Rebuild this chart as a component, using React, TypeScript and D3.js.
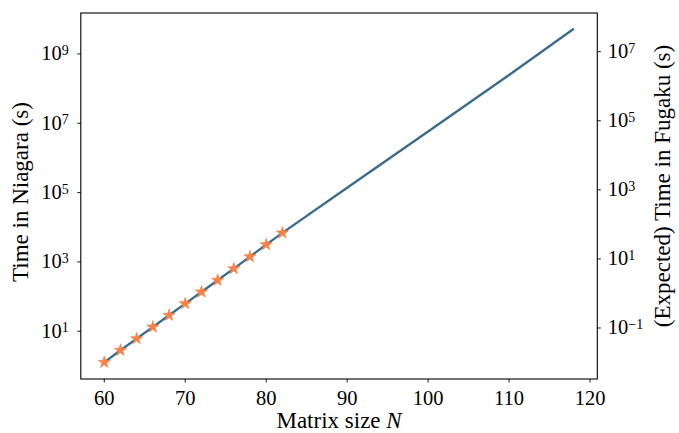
import * as d3 from "d3";

// measured points (Niagara), N = 60..82
const starN = [60, 62, 64, 66, 68, 70, 72, 74, 76, 78, 80, 82];
const starTime = [1.27, 2.83, 6.11, 13.3, 29.0, 62.7, 136, 296, 641, 1422, 3155, 6871];

// fitted / extrapolated line
const lineN = [60, 62, 64, 66, 68, 70, 72, 74, 76, 78, 80, 82, 90, 100, 110, 118];
const lineTime = [1.27, 2.83, 6.11, 13.3, 29.0, 62.7, 136, 296, 641, 1422, 3155, 6871, 1.38e5, 5.8e6, 2.46e8, 5.3e9];

const xTicks = [60, 70, 80, 90, 100, 110, 120];
const leftExps = [1, 3, 5, 7, 9];
const rightExps = ["−1", "1", "3", "5", "7"];
const rightExpVals = [-1, 1, 3, 5, 7];

const W = 679;
const H = 433;
const L = 80.8;
const R = 597.3;
const T = 13;
const B = 379;

const LINE_COLOR = "#3a6b8c";
const STAR_COLOR = "#f98146";
const FONT = "'Liberation Serif', 'DejaVu Serif', serif";
const TICK_FS = 20.5;
const SUP_FS = 14;
const LABEL_FS = 23;

export default function App() {
  const x = d3.scaleLinear().domain([57.1, 120.9]).range([L, R]);
  const yL = d3.scaleLog().domain([Math.pow(10, -0.377), Math.pow(10, 10.18)]).range([B, T]);
  const yR = d3.scaleLog().domain([Math.pow(10, -2.477), Math.pow(10, 8.12)]).range([B, T]);

  const line = d3
    .line<number>()
    .x((_, i) => x(lineN[i]))
    .y((d) => yL(d));
  const star = d3.symbol().type(d3.symbolStar).size(46)();

  return (
    <svg
      width={W}
      height={H}
      style={{ position: "absolute", left: 0, top: 0, background: "#fff" }}
      fontFamily={FONT}
    >
      <path d={line(lineTime) ?? ""} fill="none" stroke={LINE_COLOR} strokeWidth={2.3} />
      {starTime.map((v, i) => (
        <path
          key={i}
          d={star ?? ""}
          transform={`translate(${x(starN[i])},${yL(v)})`}
          fill={STAR_COLOR}
          stroke={STAR_COLOR}
          strokeWidth={0.6}
        />
      ))}

      <rect x={L} y={T} width={R - L} height={B - T} fill="none" stroke="#000" strokeWidth={1.1} />

      {xTicks.map((t) => (
        <g key={t} transform={`translate(${x(t)},${B})`}>
          <line y2={3.5} stroke="#000" strokeWidth={0.9} />
          <text y={26} textAnchor="middle" fontSize={TICK_FS}>
            {t}
          </text>
        </g>
      ))}

      {leftExps.map((e) => (
        <g key={e} transform={`translate(${L},${yL(Math.pow(10, e))})`}>
          <line x2={-3.5} stroke="#000" strokeWidth={0.9} />
          <text x={-12} y={6.5} textAnchor="end" fontSize={TICK_FS}>
            10
            <tspan fontSize={SUP_FS} dy={-5.5}>
              {e}
            </tspan>
          </text>
        </g>
      ))}

      {rightExpVals.map((e, i) => (
        <g key={e} transform={`translate(${R},${yR(Math.pow(10, e))})`}>
          <line x2={3.5} stroke="#000" strokeWidth={0.9} />
          <text x={10.5} y={6.5} textAnchor="start" fontSize={TICK_FS}>
            10
            <tspan fontSize={SUP_FS} dy={-5.5}>
              {rightExps[i]}
            </tspan>
          </text>
        </g>
      ))}

      <text x={(L + R) / 2} y={428} textAnchor="middle" fontSize={LABEL_FS}>
        Matrix size <tspan fontStyle="italic">N</tspan>
      </text>
      <text
        transform={`translate(27.5,192) rotate(-90)`}
        textAnchor="middle"
        fontSize={LABEL_FS}
      >
        Time in Niagara (s)
      </text>
      <text
        transform={`translate(670,186) rotate(-90)`}
        textAnchor="middle"
        fontSize={LABEL_FS}
      >
        (Expected) Time in Fugaku (s)
      </text>
    </svg>
  );
}
